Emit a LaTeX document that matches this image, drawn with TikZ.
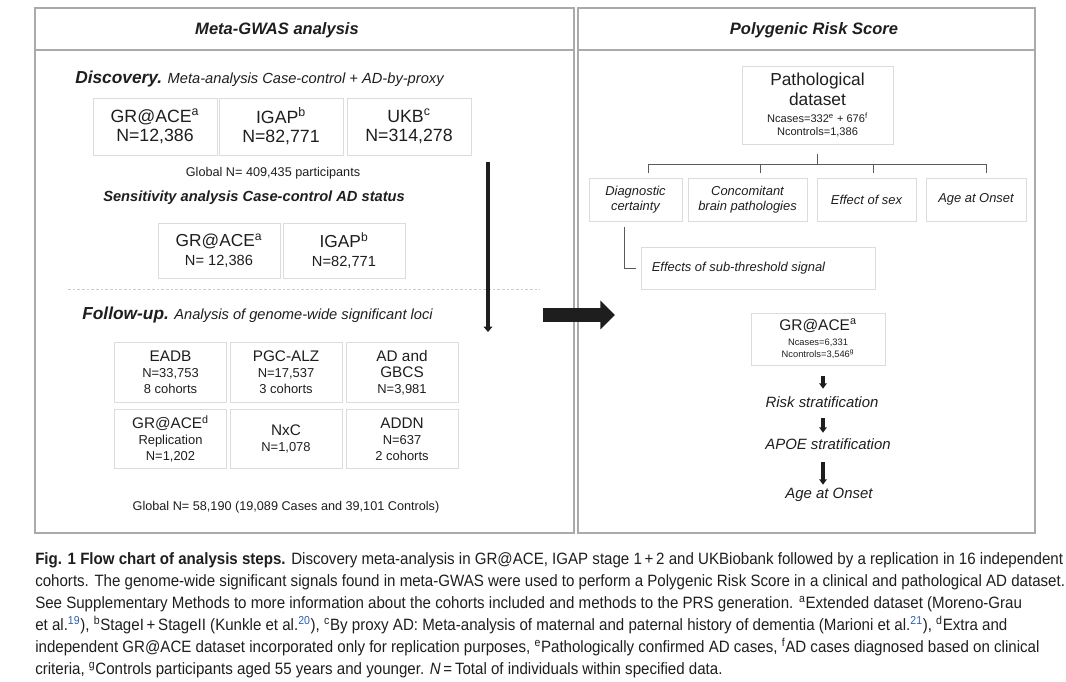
\documentclass[tikz,border=0pt]{standalone}
\usepackage{fontspec}
\setmainfont{Liberation Sans}
\newfontfamily\capfont{Liberation Sans}[FakeStretch=0.92]
\usetikzlibrary{arrows.meta,calc}
\definecolor{panelgray}{HTML}{AAAAAA}
\definecolor{boxgray}{HTML}{DCDCDC}
\definecolor{inkgray}{HTML}{1E1E1E}
\definecolor{treegray}{HTML}{5A5A5A}
\definecolor{refblue}{HTML}{2B5BAE}
\newcommand{\fsz}[2]{\fontsize{#1}{#2}\selectfont}
\newcommand{\upr}[1]{\textsuperscript{#1}}

\begin{document}
\begin{tikzpicture}[
        x=0.75pt, y=-0.75pt,
        every node/.style={text=inkgray, inner sep=0pt},
        panel/.style={draw=panelgray, line width=0.8pt},
        title/.style={font=\fsz{12.4}{14}\bfseries\itshape},
        heading/.style={anchor=west, font=\fsz{11}{13}\itshape},
        cohort/.style={draw=boxgray, line width=0.6pt, align=flush center},
        discbox/.style={cohort, text width=93pt, minimum height=42.75pt, font=\fsz{13.3}{14.3}},
        sensbox/.style={cohort, text width=91.5pt, minimum height=41.25pt, font=\fsz{13}{14.3}},
        follbox/.style={cohort, text width=84pt, minimum height=44.6pt, font=\fsz{11.5}{12}},
        factor/.style={cohort, minimum height=32.25pt, font=\fsz{9.7}{11.5}\itshape},
        total/.style={font=\fsz{9.5}{11}},
        stage/.style={font=\fsz{11.2}{13}\itshape, text height=8pt, text depth=2.5pt},
        treeline/.style={draw=treegray, line width=0.6pt},
        flow/.style={draw=inkgray, line width=2.6pt, -{Triangle[width=6.5pt,length=4pt]}},
        stepdown/.style={draw=inkgray, line width=2.4pt, -{Triangle[width=5.5pt,length=4pt]}}
    ]
    \useasboundingbox (0,0) rectangle (1066,681);

    % two panels
    \draw[panel] (35,8) rectangle (574,533);
    \draw[panel] (35,50) -- (574,50);
    \draw[panel] (578,8) rectangle (1035,533);
    \draw[panel] (578,50) -- (1035,50);
    \node[title] (gwastitle) at (277,30) {Meta-GWAS analysis};
    \node[title] (prstitle) at (814,30) {Polygenic Risk Score};

    % discovery
    \node[heading] (disc) at (75,79) {{\fsz{13}{15}\bfseries Discovery.} Meta-analysis Case-control + AD-by-proxy};
    \node[discbox] (grace) at (155,126.5) {GR@ACE\upr{a}\\N=12,386};
    \node[discbox] (igap) at (281,126.5) {IGAP\upr{b}\\N=82,771};
    \node[discbox] (ukb) at (409,126.5) {UKB\upr{c}\\N=314,278};
    \node[total] (globaldisc) at (273,173) {Global N= 409,435 participants};

    % sensitivity
    \node[heading, font=\fsz{11}{13}\bfseries\itshape] (sens) at (103,198) {Sensitivity analysis Case-control AD status};
    \node[sensbox] (gracesens) at (219,250.5) {GR@ACE\upr{a}\\\fsz{11}{14.3}N= 12,386};
    \node[sensbox] (igapsens) at (344,250.5) {IGAP\upr{b}\\\fsz{11}{14.3}N=82,771};
    \draw[gray!40, dash pattern=on 2pt off 1.5pt, line width=0.6pt] (68,289) -- (540,289);

    % follow-up
    \node[heading] (follow) at (82,315) {{\fsz{13}{15}\bfseries Follow-up.} Analysis of genome-wide significant loci};
    \node[follbox] (eadb) at (170.5,372.5) {EADB\\\fsz{9.7}{12}N=33,753\\8 cohorts};
    \node[follbox] (pgc) at (286,372.5) {PGC-ALZ\\\fsz{9.7}{12}N=17,537\\3 cohorts};
    \node[follbox] (gbcs) at (402,372.5) {AD and\\GBCS\\\fsz{9.7}{12}N=3,981};
    \node[follbox] (gracerep) at (170.5,439) {GR@ACE\upr{d}\\\fsz{9.7}{12}Replication\\N=1,202};
    \node[follbox] (nxc) at (286,439) {NxC\\\fsz{9.7}{12}N=1,078};
    \node[follbox] (addn) at (402,439) {ADDN\\\fsz{9.7}{12}N=637\\2 cohorts};
    \node[total] (globalfoll) at (286,507) {Global N= 58,190 (19,089 Cases and 39,101 Controls)};

    \coordinate (flowtop) at (488,162);
    \coordinate (flowbot) at (488,332);
    \draw[flow] (flowtop) -- (flowbot);

    % arrow into the PRS panel
    \coordinate (bigtail) at (543,315);
    \coordinate (bighead) at (615,315);
    \draw[draw=inkgray, line width=10.9pt, -{Triangle[width=21pt,length=11pt]}] (bigtail) -- (bighead);

    % pathological dataset
    \node[cohort, text width=113.25pt, minimum height=58.5pt, font={\fsz{13}{9.75}\lineskiplimit=-20pt}] (patho) at (817.5,105)
        {Pathological\\[5.25pt]dataset\\[3pt]\fsz{8.3}{9.75}Ncases=332\upr{e} + 676\upr{f}\\Ncontrols=1,386};
    \coordinate (fork) at ($(patho.south)+(0,20)$);
    \node[factor, text width=69.75pt] (diag) at (635.5,199.5) {Diagnostic\\certainty};
    \node[factor, text width=89.25pt] (conc) at (747.5,199.5) {Concomitant\\brain pathologies};
    \node[factor, text width=74.25pt] (sex) at (866.5,199.5) {Effect of sex};
    \node[factor, text width=75pt] (onset) at (976,199.5) {Age at Onset};
    \node[factor, text width=160pt, inner xsep=7.5pt, align=flush left, minimum height=31.5pt] (subthr) at (758.5,268) {Effects of sub-threshold signal};

    \draw[treeline] ([yshift=-7.5pt]patho.south) -- (fork);
    \draw[treeline] (fork) -| ($(diag.north)+(12.5,-5)$);
    \draw[treeline] (fork) -| ($(conc.north)+(12.5,-5)$);
    \draw[treeline] (fork) -| ($(sex.north)+(6.5,-5)$);
    \draw[treeline] (fork) -| ($(onset.north)+(10,-5)$);
    \draw[treeline] ($(diag.south)+(-11.5,6)$) |- ($(subthr.west)+(-5,0)$);

    % clinical dataset
    \node[cohort, text width=100.5pt, minimum height=39pt, font={\fsz{11.6}{9}\lineskiplimit=-20pt}] (gracerisk) at (818,339)
        {GR@ACE\upr{a}\\[2.25pt]\fsz{7}{9}Ncases=6,331\\Ncontrols=3,546\upr{g}};
    \node[stage] (risk) at (822,404) {Risk stratification};
    \node[stage] (apoe) at (828,446) {APOE stratification};
    \node[stage] (age) at (829,495) {Age at Onset};
    \draw[stepdown] ($(gracerisk.south)+(5,11)$) -- ($(risk.north)+(1,-8)$);
    \draw[stepdown] ($(risk.south)+(1,7)$) -- ($(apoe.north)+(-5,-6)$);
    \draw[stepdown] ($(apoe.south)+(-5,9)$) -- ($(age.north)+(-6,-3)$);

    % caption
    \node[anchor=north west, align=flush left, text width=820pt, font=\capfont\fsz{12.3}{16.5}] (caption) at (35,552)
        {\textbf{Fig. 1 Flow chart of analysis steps.} Discovery meta-analysis in GR@ACE, IGAP stage 1\,+\,2 and UKBiobank followed by a replication in 16 independent\\
        cohorts. The genome-wide significant signals found in meta-GWAS were used to perform a Polygenic Risk Score in a clinical and pathological AD dataset.\\
        See Supplementary Methods to more information about the cohorts included and methods to the PRS generation. \upr{a}Extended dataset (Moreno-Grau\\
        et al.\upr{\textcolor{refblue}{19}}), \upr{b}StageI\,+\,StageII (Kunkle et al.\upr{\textcolor{refblue}{20}}), \upr{c}By proxy AD: Meta-analysis of maternal and paternal history of dementia (Marioni et al.\upr{\textcolor{refblue}{21}}), \upr{d}Extra and\\
        independent GR@ACE dataset incorporated only for replication purposes, \upr{e}Pathologically confirmed AD cases, \upr{f}AD cases diagnosed based on clinical\\
        criteria, \upr{g}Controls participants aged 55 years and younger. \textit{N}\,=\,Total of individuals within specified data.};
\end{tikzpicture}
\end{document}
